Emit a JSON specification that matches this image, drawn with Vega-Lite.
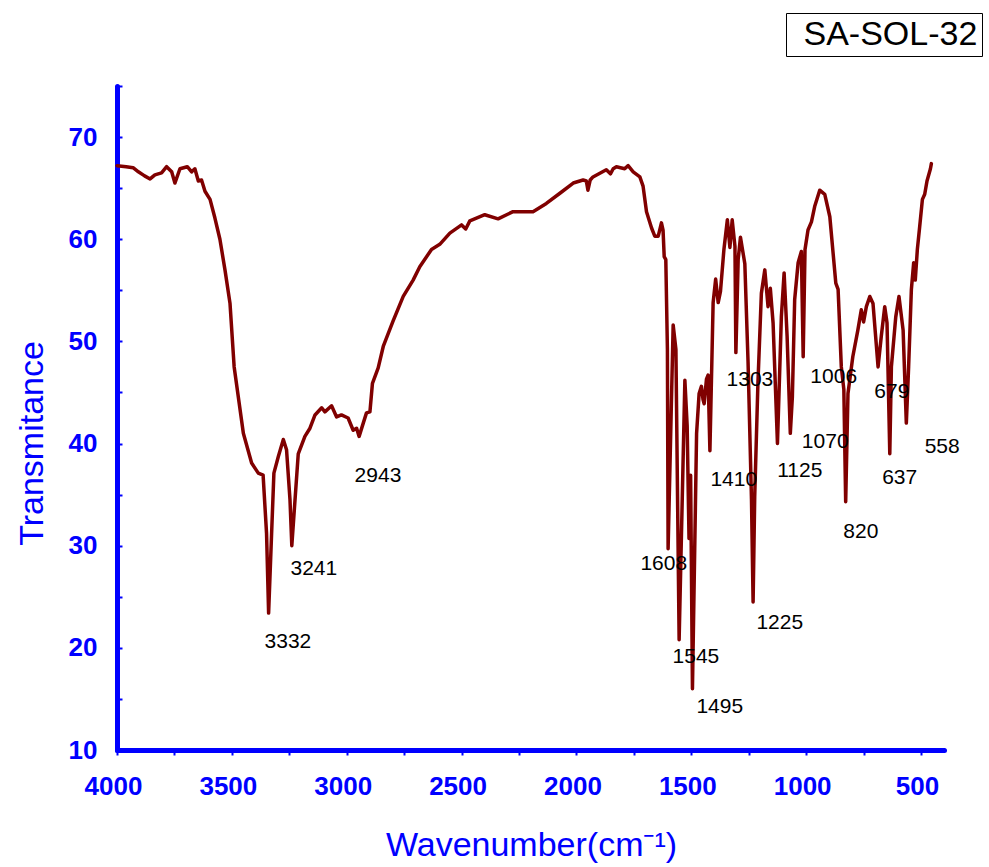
{
  "$schema": "https://vega.github.io/schema/vega-lite/v6.json",
  "width": 827,
  "height": 664,
  "autosize": "none",
  "padding": {"left": 117, "top": 86, "right": 45, "bottom": 117},
  "background": "white",
  "config": {"view": {"stroke": null}},
  "datasets": {
    "spectrum": [
      {"wn": 4000, "t": 67.2}, {"wn": 3960, "t": 67.1}, {"wn": 3930, "t": 67.0}, {"wn": 3907, "t": 66.6},
      {"wn": 3880, "t": 66.2}, {"wn": 3856, "t": 65.9}, {"wn": 3835, "t": 66.3}, {"wn": 3806, "t": 66.5},
      {"wn": 3784, "t": 67.1}, {"wn": 3762, "t": 66.6}, {"wn": 3748, "t": 65.5}, {"wn": 3726, "t": 66.9},
      {"wn": 3694, "t": 67.1}, {"wn": 3675, "t": 66.6}, {"wn": 3661, "t": 66.9}, {"wn": 3646, "t": 65.7},
      {"wn": 3632, "t": 65.8}, {"wn": 3617, "t": 64.7}, {"wn": 3595, "t": 63.9}, {"wn": 3574, "t": 62.1},
      {"wn": 3552, "t": 60.0}, {"wn": 3530, "t": 57.0}, {"wn": 3508, "t": 53.7}, {"wn": 3490, "t": 47.5},
      {"wn": 3450, "t": 41.0}, {"wn": 3414, "t": 38.1}, {"wn": 3385, "t": 37.1}, {"wn": 3364, "t": 36.9},
      {"wn": 3349, "t": 31.2}, {"wn": 3340, "t": 23.4}, {"wn": 3327, "t": 31.2}, {"wn": 3317, "t": 37.1},
      {"wn": 3298, "t": 38.7}, {"wn": 3276, "t": 40.4}, {"wn": 3262, "t": 39.4}, {"wn": 3247, "t": 34.5},
      {"wn": 3239, "t": 30.0}, {"wn": 3225, "t": 34.5}, {"wn": 3211, "t": 39.0}, {"wn": 3182, "t": 40.7},
      {"wn": 3160, "t": 41.5}, {"wn": 3138, "t": 42.8}, {"wn": 3109, "t": 43.5}, {"wn": 3095, "t": 43.1},
      {"wn": 3066, "t": 43.7}, {"wn": 3044, "t": 42.6}, {"wn": 3023, "t": 42.8}, {"wn": 2994, "t": 42.5},
      {"wn": 2972, "t": 41.3}, {"wn": 2957, "t": 41.5}, {"wn": 2946, "t": 40.7}, {"wn": 2928, "t": 42.0},
      {"wn": 2914, "t": 43.0}, {"wn": 2899, "t": 43.1}, {"wn": 2888, "t": 45.9}, {"wn": 2863, "t": 47.4},
      {"wn": 2841, "t": 49.5}, {"wn": 2798, "t": 52.0}, {"wn": 2754, "t": 54.4}, {"wn": 2711, "t": 56.0},
      {"wn": 2682, "t": 57.3}, {"wn": 2631, "t": 59.0}, {"wn": 2595, "t": 59.5}, {"wn": 2551, "t": 60.6},
      {"wn": 2500, "t": 61.4}, {"wn": 2482, "t": 61.0}, {"wn": 2464, "t": 61.8}, {"wn": 2399, "t": 62.4},
      {"wn": 2341, "t": 62.0}, {"wn": 2276, "t": 62.7}, {"wn": 2189, "t": 62.7}, {"wn": 2131, "t": 63.5},
      {"wn": 2072, "t": 64.5}, {"wn": 2014, "t": 65.5}, {"wn": 1971, "t": 65.8}, {"wn": 1957, "t": 65.7},
      {"wn": 1950, "t": 64.8}, {"wn": 1940, "t": 65.8}, {"wn": 1928, "t": 66.1}, {"wn": 1870, "t": 66.8},
      {"wn": 1852, "t": 66.4}, {"wn": 1840, "t": 66.9}, {"wn": 1826, "t": 67.1}, {"wn": 1790, "t": 66.9},
      {"wn": 1775, "t": 67.2}, {"wn": 1753, "t": 66.6}, {"wn": 1724, "t": 66.1}, {"wn": 1710, "t": 65.2},
      {"wn": 1695, "t": 62.7}, {"wn": 1673, "t": 61.1}, {"wn": 1659, "t": 60.3}, {"wn": 1644, "t": 60.3},
      {"wn": 1630, "t": 61.6}, {"wn": 1623, "t": 60.9}, {"wn": 1618, "t": 58.3}, {"wn": 1611, "t": 58.0},
      {"wn": 1604, "t": 49.2}, {"wn": 1601, "t": 29.7}, {"wn": 1579, "t": 51.6}, {"wn": 1567, "t": 49.2},
      {"wn": 1553, "t": 20.8}, {"wn": 1528, "t": 46.2}, {"wn": 1518, "t": 41.7}, {"wn": 1510, "t": 30.7},
      {"wn": 1503, "t": 36.9}, {"wn": 1495, "t": 16.0}, {"wn": 1477, "t": 41.0}, {"wn": 1466, "t": 44.9},
      {"wn": 1456, "t": 45.6}, {"wn": 1449, "t": 44.3}, {"wn": 1444, "t": 43.9}, {"wn": 1434, "t": 46.3},
      {"wn": 1427, "t": 46.7}, {"wn": 1419, "t": 39.3}, {"wn": 1405, "t": 53.8}, {"wn": 1394, "t": 56.1},
      {"wn": 1383, "t": 53.8}, {"wn": 1373, "t": 54.9}, {"wn": 1358, "t": 59.0}, {"wn": 1343, "t": 61.9},
      {"wn": 1332, "t": 59.2}, {"wn": 1322, "t": 61.9}, {"wn": 1310, "t": 59.3}, {"wn": 1306, "t": 48.9},
      {"wn": 1296, "t": 58.0}, {"wn": 1286, "t": 60.2}, {"wn": 1267, "t": 57.6}, {"wn": 1253, "t": 48.0},
      {"wn": 1238, "t": 34.5}, {"wn": 1231, "t": 24.5}, {"wn": 1224, "t": 34.8}, {"wn": 1210, "t": 45.9},
      {"wn": 1195, "t": 54.7}, {"wn": 1180, "t": 57.0}, {"wn": 1166, "t": 53.4}, {"wn": 1156, "t": 55.2},
      {"wn": 1144, "t": 51.8}, {"wn": 1125, "t": 40.0}, {"wn": 1108, "t": 52.4}, {"wn": 1096, "t": 56.7},
      {"wn": 1083, "t": 50.5}, {"wn": 1069, "t": 41.0}, {"wn": 1060, "t": 44.6}, {"wn": 1050, "t": 54.1},
      {"wn": 1035, "t": 57.7}, {"wn": 1021, "t": 58.8}, {"wn": 1013, "t": 48.5}, {"wn": 1005, "t": 59.0},
      {"wn": 992, "t": 60.9}, {"wn": 977, "t": 61.7}, {"wn": 963, "t": 63.2}, {"wn": 941, "t": 64.8},
      {"wn": 919, "t": 64.4}, {"wn": 897, "t": 62.2}, {"wn": 871, "t": 55.7}, {"wn": 861, "t": 55.1},
      {"wn": 847, "t": 47.5}, {"wn": 836, "t": 45.3}, {"wn": 828, "t": 34.3}, {"wn": 818, "t": 44.9},
      {"wn": 797, "t": 48.5}, {"wn": 775, "t": 51.1}, {"wn": 760, "t": 53.1}, {"wn": 750, "t": 51.9},
      {"wn": 738, "t": 53.4}, {"wn": 723, "t": 54.4}, {"wn": 709, "t": 53.7}, {"wn": 687, "t": 47.5},
      {"wn": 673, "t": 50.5}, {"wn": 658, "t": 53.4}, {"wn": 648, "t": 51.8}, {"wn": 636, "t": 39.0},
      {"wn": 629, "t": 47.5}, {"wn": 610, "t": 52.4}, {"wn": 596, "t": 54.4}, {"wn": 578, "t": 51.1},
      {"wn": 564, "t": 42.0}, {"wn": 554, "t": 47.5}, {"wn": 542, "t": 55.1}, {"wn": 532, "t": 57.7},
      {"wn": 525, "t": 56.0}, {"wn": 516, "t": 59.0}, {"wn": 506, "t": 61.2}, {"wn": 494, "t": 63.9},
      {"wn": 484, "t": 64.4}, {"wn": 474, "t": 65.7}, {"wn": 459, "t": 66.9}, {"wn": 455, "t": 67.4}
    ],
    "peaks": [
      {"label": "3332", "lx": 3256, "ly": 20.0},
      {"label": "3241", "lx": 3143, "ly": 27.1},
      {"label": "2943", "lx": 2864, "ly": 36.2},
      {"label": "1608", "lx": 1620, "ly": 27.6},
      {"label": "1545", "lx": 1480, "ly": 18.5},
      {"label": "1495", "lx": 1376, "ly": 13.6},
      {"label": "1410", "lx": 1315, "ly": 35.8},
      {"label": "1225", "lx": 1115, "ly": 21.8},
      {"label": "1303", "lx": 1245, "ly": 45.6},
      {"label": "1125", "lx": 1028, "ly": 36.7},
      {"label": "1070", "lx": 917, "ly": 39.6},
      {"label": "1006", "lx": 880, "ly": 45.9},
      {"label": "679", "lx": 627, "ly": 44.5},
      {"label": "637", "lx": 593, "ly": 36.0},
      {"label": "820", "lx": 762, "ly": 30.8},
      {"label": "558", "lx": 408, "ly": 39.1}
    ]
  },
  "layer": [
    {
      "data": {"name": "spectrum"},
      "mark": {"type": "line", "strokeWidth": 3.5, "strokeJoin": "round", "strokeCap": "round"},
      "encoding": {
        "x": {
          "field": "wn", "type": "quantitative",
          "scale": {"domain": [400, 4000], "reverse": true, "nice": false, "zero": false},
          "axis": {
            "title": "Wavenumber(cm⁻¹)",
            "values": [500, 750, 1000, 1250, 1500, 1750, 2000, 2250, 2500, 2750, 3000, 3250, 3500, 3750, 4000],
            "format": "d",
            "labelExpr": "datum.value % 500 == 0 ? datum.label : ''",
            "labelOverlap": false, "labelFlush": false, "labelBound": false,
            "labelOffset": -4,
            "grid": false,
            "domainColor": "#0000ff", "domainWidth": 5, "domainCap": "round",
            "tickColor": "#0000ff", "tickSize": 5, "tickWidth": 2,
            "labelColor": "#0000ff", "labelFont": "Liberation Sans", "labelFontWeight": "bold", "labelFontSize": 26,
            "labelPadding": 18,
            "titleColor": "#0000ff", "titleFont": "Liberation Sans", "titleFontWeight": "normal", "titleFontSize": 34,
            "titleX": 414, "titleY": 105, "titleBaseline": "alphabetic", "titleAlign": "center"
          }
        },
        "y": {
          "field": "t", "type": "quantitative",
          "scale": {"domain": [10, 75], "nice": false, "zero": false},
          "axis": {
            "title": "Transmitance",
            "values": [10, 15, 20, 25, 30, 35, 40, 45, 50, 55, 60, 65, 70, 75],
            "labelExpr": "datum.value % 10 == 0 ? datum.label : ''",
            "labelOverlap": false, "labelFlush": false, "labelBound": false,
            "grid": false,
            "domainColor": "#0000ff", "domainWidth": 5, "domainCap": "round",
            "tickColor": "#0000ff", "tickSize": -5, "tickWidth": 2,
            "labelColor": "#0000ff", "labelFont": "Liberation Sans", "labelFontWeight": "bold", "labelFontSize": 26,
            "labelPadding": 25,
            "titleColor": "#0000ff", "titleFont": "Liberation Sans", "titleFontWeight": "normal", "titleFontSize": 34,
            "titleAngle": -90, "titleX": -75, "titleY": 357, "titleBaseline": "alphabetic", "titleAlign": "center"
          }
        },
        "color": {
          "datum": "SA-SOL-32", "type": "nominal",
          "scale": {"range": ["#800000"]},
          "legend": {
            "title": null,
            "orient": "none", "legendX": 669, "legendY": -73,
            "strokeColor": "#000000", "padding": 4.5,
            "symbolType": "square", "symbolSize": 0, "symbolOpacity": 0, "symbolStrokeWidth": 0,
            "labelOffset": -21,
            "labelFont": "Liberation Sans", "labelFontSize": 34, "labelColor": "#000000", "labelLimit": 0,
            "labelExpr": "datum.label + '\u2002'"
          }
        }
      }
    },
    {
      "data": {"name": "peaks"},
      "mark": {"type": "text", "font": "Liberation Sans", "fontSize": 21, "color": "#000000", "align": "center", "baseline": "alphabetic"},
      "encoding": {
        "x": {"field": "lx", "type": "quantitative"},
        "y": {"field": "ly", "type": "quantitative"},
        "text": {"field": "label"}
      }
    }
  ]
}
